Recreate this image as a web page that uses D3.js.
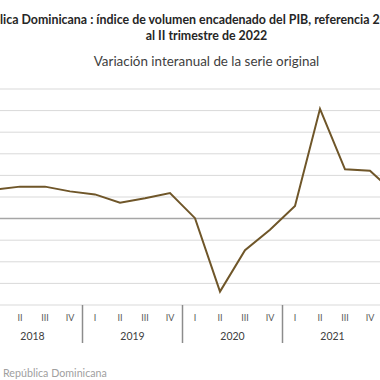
<!DOCTYPE html>
<html><head><meta charset="utf-8">
<script src="https://cdn.jsdelivr.net/npm/d3@7"></script>
<style>html,body{margin:0;padding:0;background:#fff;overflow:hidden}</style>
</head><body>
<svg id="c" width="380" height="380"></svg>
<script>
const years = ["2018","2019","2020","2021","2022"];
const quarterNames = ["I","II","III","IV"];
const periods = ["2018-I","2018-II","2018-III","2018-IV","2019-I","2019-II","2019-III","2019-IV","2020-I","2020-II","2020-III","2020-IV","2021-I","2021-II","2021-III","2021-IV","2022-I","2022-II"];
const values = [6.7,7.4,7.4,6.3,5.6,3.7,4.7,5.9,0.1,-16.9,-7.3,-2.6,2.9,25.4,11.4,11.1,5.8,4.9];
const yTicks = [-20,-15,-10,-5,0,5,10,15,20,25,30];

const titleLine1 = "República Dominicana : índice de volumen encadenado del PIB, referencia 2018,";
const titleLine2 = "al II trimestre de 2022";
const subtitle = "Variación interanual de la serie original";
const footer = "República Dominicana";

const W = 380;
const svg = d3.select("#c");
const font = "Lato, 'Open Sans', sans-serif";
const cx = 206.5;

const x = d3.scaleBand().domain(periods).range([-17.5, 432.5]);
const y = d3.scaleLinear().domain([-20, 30]).range([305, 89]);
const inView = px => px > 4 && px < W - 4;

// grid
svg.append("g").selectAll("line").data(yTicks.filter(d => d !== 0)).join("line")
  .attr("x1", 0).attr("x2", W)
  .attr("y1", d => y(d)).attr("y2", d => y(d))
  .attr("stroke", "#d9d9d9").attr("stroke-width", 1);
// zero line
svg.append("line").attr("x1", 0).attr("x2", W).attr("y1", y(0)).attr("y2", y(0))
  .attr("stroke", "#a6a6a6").attr("stroke-width", 1.5);

// year separators
const yearStarts = years.map(yr => x(yr + "-I"));
svg.append("g").selectAll("line").data(yearStarts.slice(1).filter(inView)).join("line")
  .attr("x1", d => d).attr("x2", d => d)
  .attr("y1", y(-20)).attr("y2", 343)
  .attr("stroke", "#8c8c8c").attr("stroke-width", 1.5);

// quarter labels
const qCenter = d => x(d) + x.bandwidth() / 2;
svg.append("g").selectAll("text").data(periods.filter(d => inView(qCenter(d)))).join("text")
  .attr("x", qCenter).attr("y", 320.5)
  .attr("text-anchor", "middle")
  .attr("font-family", font).attr("font-size", 9).attr("fill", "#595959")
  .text(d => d.split("-")[1]);

// year labels
const yCenter = d => x(d + "-I") + 2 * x.bandwidth();
svg.append("g").selectAll("text").data(years.filter(d => inView(yCenter(d)))).join("text")
  .attr("x", yCenter).attr("y", 340)
  .attr("text-anchor", "middle")
  .attr("font-family", font).attr("font-size", 10.5).attr("fill", "#404040")
  .text(d => d);

// line
const line = d3.line().x((d, i) => qCenter(periods[i])).y(d => y(d));
svg.append("path").datum(values).attr("d", line)
  .attr("fill", "none").attr("stroke", "#6f5629").attr("stroke-width", 2)
  .attr("stroke-linejoin", "miter");

// titles
const tSize = 12.4;
const t1 = svg.append("text").attr("y", 24)
  .attr("font-family", font).attr("font-size", tSize).attr("font-weight", "bold").attr("fill", "#262626");
const pre = svg.append("text").attr("font-family", font).attr("font-size", tSize).attr("font-weight", "bold")
  .attr("visibility", "hidden").text("Repúb");
const preW = pre.node().getComputedTextLength();
pre.remove();
t1.attr("x", -preW).text(titleLine1);

svg.append("text").attr("x", cx).attr("y", 39.5).attr("text-anchor", "middle")
  .attr("font-family", font).attr("font-size", tSize).attr("font-weight", "bold").attr("fill", "#262626")
  .text(titleLine2);
svg.append("text").attr("x", cx).attr("y", 65.5).attr("text-anchor", "middle")
  .attr("font-family", font).attr("font-size", 13.4).attr("fill", "#404040")
  .text(subtitle);

svg.append("text").attr("x", 3).attr("y", 377)
  .attr("font-family", font).attr("font-size", 10.7).attr("fill", "#a0a0a0")
  .text(footer);
</script>
</body></html>
